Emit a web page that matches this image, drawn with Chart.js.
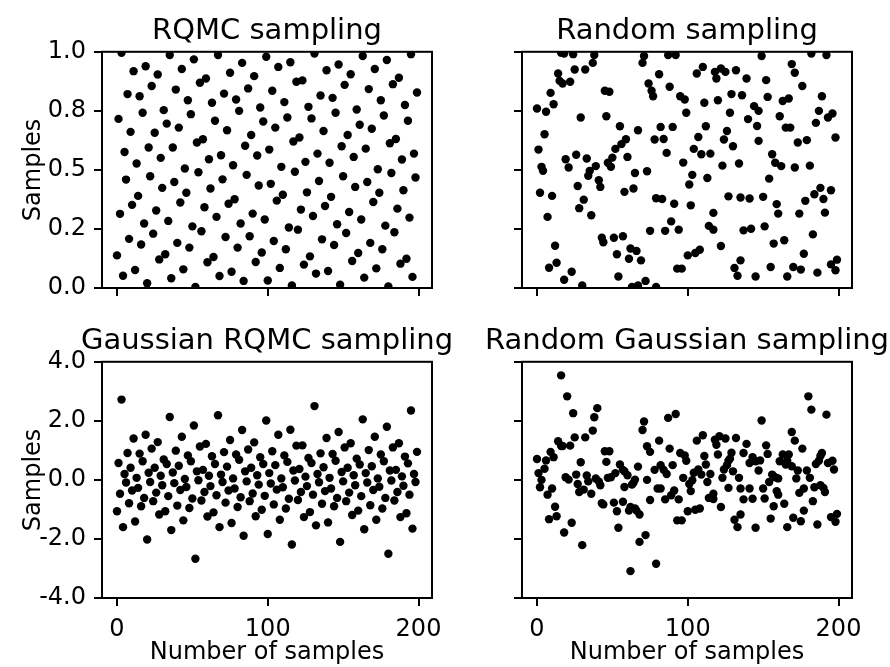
<!DOCTYPE html>
<html>
<head>
<meta charset="utf-8">
<script src="https://cdn.jsdelivr.net/npm/chart.js@4.4.0/dist/chart.umd.min.js"></script>
<style>
  html, body { margin: 0; padding: 0; background: #fff; width: 890px; height: 667px; overflow: hidden; }
  canvas { position: absolute; }
</style>
</head>
<body>
<canvas id="rqmc" width="534" height="315" style="left:0px;top:0px"></canvas>
<canvas id="random" width="450" height="315" style="left:462px;top:0px"></canvas>
<canvas id="gaussRqmc" width="534" height="357" style="left:0px;top:310px"></canvas>
<canvas id="gaussRandom" width="450" height="357" style="left:462px;top:310px"></canvas>
<script>
// tick values and labels
var xTickValues = [0, 100, 200];
var xTickLabels = ['0', '100', '200'];
var uniformTickValues = [0, 0.25, 0.5, 0.75, 1];
var uniformTickLabels = ['0.0', '0.2', '0.5', '0.8', '1.0'];
var gaussTickValues = [-4, -2, 0, 2, 4];
var gaussTickLabels = ['-4.0', '-2.0', '0.0', '2.0', '4.0'];

// RQMC sampling (one sample per index 0..199)
var rqmcY = [
  0.138, 0.716, 0.314, 0.996, 0.052, 0.576, 0.459, 0.821, 0.208, 0.661,
  0.352, 0.918, 0.076, 0.527, 0.390, 0.812, 0.184, 0.742, 0.273, 0.939,
  0.020, 0.595, 0.473, 0.855, 0.230, 0.657, 0.328, 0.904, 0.121, 0.551,
  0.424, 0.753, 0.143, 0.696, 0.284, 0.986, 0.041, 0.595, 0.449, 0.840,
  0.191, 0.679, 0.362, 0.927, 0.079, 0.506, 0.403, 0.795, 0.171, 0.736,
  0.261, 0.968, 0.004, 0.616, 0.490, 0.869, 0.240, 0.630, 0.342, 0.887,
  0.109, 0.545, 0.421, 0.784, 0.131, 0.708, 0.301, 0.986, 0.051, 0.562,
  0.460, 0.823, 0.216, 0.668, 0.357, 0.911, 0.069, 0.520, 0.376, 0.798,
  0.171, 0.750, 0.273, 0.953, 0.030, 0.602, 0.479, 0.845, 0.219, 0.648,
  0.315, 0.897, 0.110, 0.561, 0.434, 0.764, 0.150, 0.705, 0.290, 0.979,
  0.032, 0.586, 0.441, 0.835, 0.199, 0.679, 0.370, 0.936, 0.085, 0.513,
  0.395, 0.787, 0.164, 0.722, 0.256, 0.956, 0.011, 0.620, 0.492, 0.873,
  0.247, 0.637, 0.332, 0.879, 0.099, 0.534, 0.405, 0.767, 0.134, 0.718,
  0.305, 0.993, 0.061, 0.569, 0.453, 0.815, 0.206, 0.665, 0.347, 0.922,
  0.072, 0.530, 0.386, 0.805, 0.182, 0.742, 0.270, 0.946, 0.014, 0.600,
  0.473, 0.860, 0.233, 0.648, 0.322, 0.905, 0.114, 0.555, 0.428, 0.756,
  0.148, 0.691, 0.290, 0.982, 0.044, 0.590, 0.449, 0.842, 0.191, 0.674,
  0.364, 0.927, 0.083, 0.503, 0.403, 0.795, 0.164, 0.730, 0.264, 0.965,
  0.007, 0.613, 0.487, 0.863, 0.236, 0.631, 0.336, 0.890, 0.103, 0.544,
  0.414, 0.775, 0.124, 0.708, 0.298, 0.990, 0.047, 0.569, 0.468, 0.828
];

// Gaussian RQMC sampling (one sample per index 0..199)
var gaussRqmcY = [
  -1.06, 0.57, -0.47, 2.72, -1.60, 0.20, -0.09, 0.91, -0.79, 0.41,
  -0.36, 1.40, -1.41, 0.07, -0.27, 0.89, -0.89, 0.63, -0.61, 1.53,
  -2.02, 0.24, -0.07, 1.06, -0.72, 0.41, -0.43, 1.28, -1.17, 0.14,
  -0.18, 0.69, -1.06, 0.54, -0.55, 2.13, -1.70, 0.25, -0.11, 0.99,
  -0.87, 0.48, -0.34, 1.46, -1.37, 0.03, -0.24, 0.83, -0.95, 0.63,
  -0.63, 1.84, -2.67, 0.29, -0.01, 1.13, -0.70, 0.34, -0.41, 1.22,
  -1.24, 0.14, -0.21, 0.80, -1.10, 0.54, -0.52, 2.19, -1.60, 0.18,
  -0.07, 0.94, -0.77, 0.45, -0.36, 1.35, -1.46, 0.05, -0.29, 0.86,
  -0.92, 0.68, -0.59, 1.69, -1.89, 0.29, -0.05, 1.03, -0.72, 0.41,
  -0.46, 1.27, -1.23, 0.16, -0.16, 0.77, -1.01, 0.54, -0.54, 2.01,
  -1.83, 0.23, -0.12, 0.97, -0.83, 0.50, -0.33, 1.53, -1.35, 0.05,
  -0.25, 0.83, -0.97, 0.61, -0.64, 1.70, -2.19, 0.32, -0.02, 1.16,
  -0.68, 0.37, -0.41, 1.17, -1.26, 0.11, -0.21, 0.74, -1.09, 0.57,
  -0.50, 2.50, -1.54, 0.20, -0.08, 0.90, -0.81, 0.43, -0.38, 1.42,
  -1.44, 0.07, -0.29, 0.88, -0.89, 0.65, -0.61, 1.62, -2.10, 0.27,
  -0.05, 1.10, -0.72, 0.41, -0.43, 1.24, -1.19, 0.16, -0.18, 0.72,
  -1.04, 0.52, -0.55, 2.05, -1.67, 0.23, -0.09, 1.01, -0.86, 0.46,
  -0.34, 1.46, -1.35, 0.05, -0.23, 0.86, -0.97, 0.63, -0.61, 1.80,
  -2.50, 0.32, -0.02, 1.10, -0.70, 0.34, -0.41, 1.24, -1.26, 0.12,
  -0.20, 0.79, -1.13, 0.56, -0.50, 2.35, -1.65, 0.20, -0.07, 0.95
];

// Random sampling (sample index, value)
var randomX = [
  0, 1, 2, 3, 4, 5, 6, 7, 8, 9, 10, 11, 12, 13, 14, 15, 16, 17, 18, 18,
  19, 21, 22, 23, 24, 25, 26, 27, 28, 29, 30, 31, 32, 33, 34, 35, 36, 37, 38, 39,
  41, 42, 43, 44, 45, 46, 47, 48, 49, 50, 51, 52, 53, 54, 55, 56, 57, 58, 59, 60,
  61, 62, 63, 64, 65, 66, 67, 67, 69, 70, 71, 72, 73, 74, 75, 76, 77, 78, 79, 79,
  81, 82, 83, 84, 85, 86, 87, 88, 89, 90, 91, 92, 93, 94, 95, 96, 97, 98, 99, 100,
  101, 102, 103, 104, 105, 106, 107, 108, 109, 110, 111, 112, 113, 114, 115, 117, 117, 118, 119, 120,
  122, 122, 123, 124, 125, 126, 127, 128, 129, 130, 131, 132, 133, 134, 135, 135, 136, 137, 139, 140,
  141, 142, 144, 145, 146, 147, 147, 149, 150, 151, 152, 153, 154, 155, 156, 157, 158, 159, 160, 161,
  162, 163, 164, 165, 166, 167, 168, 169, 170, 171, 171, 173, 174, 175, 176, 177, 178, 179, 181, 182,
  183, 184, 185, 186, 187, 188, 189, 190, 191, 192, 193, 195, 195, 196, 198, 198, 199
];
var randomY = [
  0.760, 0.586, 0.403, 0.513, 0.496, 0.651, 0.746, 0.301, 0.086, 0.826, 0.390, 0.778, 0.179, 0.107, 0.908, 0.877, 0.996, 0.866, 0.993, 0.035,
  0.545, 0.510, 0.873, 0.069, 0.990, 0.925, 0.564, 0.432, 0.338, 0.722, 0.011, 0.374, 0.925, 0.548, 0.475, 0.496, 0.308, 0.953, 0.986, 0.516,
  0.456, 0.428, 0.213, 0.194, 0.835, 0.727, 0.530, 0.831, 0.513, 0.552, 0.213, 0.589, 0.143, 0.049, 0.685, 0.609, 0.219, 0.407, 0.630, 0.555,
  0.124, 0.167, 0.004, 0.421, 0.487, 0.157, 0.668, 0.011, 0.117, 0.953, 0.982, 0.030, 0.494, 0.866, 0.242, 0.835, 0.812, 0.629, 0.380, 0.004,
  0.905, 0.682, 0.377, 0.631, 0.242, 0.572, 0.986, 0.852, 0.282, 0.682, 0.357, 0.986, 0.082, 0.247, 0.812, 0.082, 0.531, 0.798, 0.742, 0.138,
  0.438, 0.350, 0.479, 0.589, 0.148, 0.908, 0.639, 0.162, 0.566, 0.936, 0.784, 0.685, 0.466, 0.263, 0.569, 0.247, 0.318, 0.915, 0.887, 0.795,
  0.929, 0.178, 0.518, 0.629, 0.915, 0.665, 0.388, 0.742, 0.821, 0.600, 0.085, 0.922, 0.052, 0.527, 0.117, 0.383, 0.816, 0.244, 0.887, 0.715,
  0.379, 0.251, 0.770, 0.049, 0.686, 0.750, 0.623, 0.982, 0.386, 0.261, 0.880, 0.809, 0.463, 0.089, 0.566, 0.188, 0.530, 0.355, 0.315, 0.727,
  0.516, 0.792, 0.202, 0.679, 0.049, 0.802, 0.679, 0.948, 0.089, 0.911, 0.510, 0.616, 0.315, 0.078, 0.855, 0.145, 0.369, 0.626, 0.518, 0.993,
  0.227, 0.397, 0.699, 0.065, 0.750, 0.424, 0.812, 0.377, 0.319, 0.986, 0.722, 0.414, 0.100, 0.739, 0.075, 0.637, 0.120
];

// Random Gaussian sampling (sample index, value)
var gaussRandomX = [
  0, 1, 2, 3, 5, 6, 7, 8, 9, 10, 11, 12, 13, 14, 16, 16, 17, 18, 19, 20,
  21, 22, 23, 24, 25, 26, 27, 28, 29, 30, 31, 32, 33, 34, 36, 37, 38, 39, 40, 41,
  42, 43, 44, 45, 46, 47, 48, 49, 51, 52, 53, 54, 55, 57, 57, 58, 58, 60, 61, 62,
  62, 63, 64, 65, 65, 66, 67, 68, 68, 70, 71, 72, 73, 73, 75, 75, 78, 79, 80, 81,
  82, 82, 84, 85, 86, 87, 88, 89, 90, 91, 92, 93, 94, 95, 96, 97, 98, 99, 100, 101,
  102, 103, 104, 105, 106, 107, 108, 109, 110, 111, 112, 113, 114, 115, 117, 117, 118, 119, 120, 121,
  122, 123, 124, 125, 126, 127, 127, 128, 129, 130, 131, 132, 133, 134, 135, 135, 137, 137, 139, 141,
  141, 143, 143, 145, 145, 147, 148, 149, 150, 151, 152, 153, 154, 155, 156, 157, 158, 159, 160, 160,
  161, 163, 164, 165, 166, 166, 167, 169, 169, 170, 171, 172, 173, 174, 175, 176, 177, 177, 179, 180,
  181, 182, 183, 184, 185, 186, 187, 188, 188, 189, 190, 191, 192, 193, 195, 196, 197, 198, 199
];
var gaussRandomY = [
  0.71, 0.23, -0.25, 0.00, 0.38, 0.66, -0.50, -1.33, 0.95, -0.29, 0.77, -0.91, -1.23, 1.31, 1.15, 3.54, 1.15, -1.78, 0.09, 2.83,
  0.01, 1.16, -1.45, 2.26, 1.44, 0.18, -0.14, -0.41, 0.60, -2.21, -0.33, 1.44, 0.15, -0.05, -0.47, 1.67, 2.12, 0.05, 2.43, -0.05,
  -0.18, -0.79, -0.83, 0.97, 0.61, 0.07, 0.97, 0.09, -0.77, 0.23, -1.06, -1.62, 0.52, 0.34, -0.74, -0.24, 0.29, 0.16, -1.04, -0.92,
  -3.09, -0.16, -0.10, -0.97, 0.01, -1.04, 0.45, -1.17, -2.10, 1.69, 1.98, -1.87, 0.00, 1.14, 0.95, -0.68, 0.34, -2.84, -0.29, 1.33,
  -0.29, 0.50, 0.34, -0.66, 0.20, 2.10, 1.06, -0.52, 0.50, -0.36, 2.23, -1.37, -0.66, 0.91, -1.37, 0.07, 0.83, 0.65, -1.06, -0.14,
  -0.38, -0.01, 0.24, -1.01, 1.33, 0.35, -0.97, 0.18, 1.51, 0.81, 0.52, -0.07, -0.61, 0.20, -0.65, -0.47, 1.36, 1.19, 0.86, 1.48,
  -0.92, 0.07, 0.35, 1.40, 0.50, -0.27, 0.65, 0.72, 0.92, 0.29, -1.35, 1.42, -1.60, 0.07, -1.17, -0.29, -0.66, 0.91, 1.22, -0.29,
  0.57, -0.64, 0.77, 0.63, -1.62, 0.32, 0.66, 2.01, -0.29, -0.63, 1.17, 0.88, -0.07, -1.31, 0.18, -0.89, 0.09, -0.38, 0.05, -0.50,
  0.63, 0.86, -0.81, 0.52, 0.65, -1.60, 0.86, 0.46, 1.62, -1.28, 1.33, 0.05, 0.32, -0.44, -1.40, 1.06, -1.04, -0.29, 0.32, 2.83,
  0.07, 2.38, -0.72, -0.25, 0.54, -1.51, 0.65, 0.81, -0.18, 0.91, -0.27, -0.41, 2.21, 0.57, -1.26, 0.65, 0.35, -1.42, -1.15
];

Chart.defaults.font.family = "'DejaVu Sans', sans-serif";
Chart.defaults.color = '#000';
Chart.defaults.animation = false;

// draw all four spines round the plot area
var framePlugin = {
    id: 'frame',
    afterDatasetsDraw: function (chart) {
        var a = chart.chartArea;
        var ctx = chart.ctx;
        ctx.save();
        ctx.strokeStyle = '#000';
        ctx.lineWidth = 2;
        ctx.strokeRect(a.left, a.top, a.right - a.left, a.bottom - a.top);
        ctx.restore();
    }
};

function toPoints(xs, ys) {
    var pts = [];
    for (var i = 0; i < ys.length; i++) {
        pts.push({ x: xs[i], y: ys[i] });
    }
    return pts;
}

function indexList(n) {
    var idx = [];
    for (var i = 0; i < n; i++) {
        idx.push(i);
    }
    return idx;
}

function drawPanel(id, title, points, p) {
    var config = {
        type: 'scatter',
        data: {
            datasets: [{
                data: points,
                backgroundColor: '#000',
                borderWidth: 0,
                pointRadius: 4.2,
                pointHoverRadius: 4.2,
                clip: 0
            }]
        },
        options: {
            responsive: false,
            events: [],
            layout: { padding: 0 },
            plugins: {
                legend: { display: false },
                tooltip: { enabled: false },
                title: {
                    display: true,
                    text: title,
                    font: { size: 29, weight: 'normal' },
                    color: '#000',
                    padding: { top: 14, bottom: 3 }
                }
            },
            scales: {
                x: {
                    type: 'linear',
                    min: -9.95,
                    max: 208.95,
                    afterBuildTicks: function (scale) {
                        scale.ticks = xTickValues.map(function (v) { return { value: v }; });
                    },
                    afterFit: function (scale) { scale.height = p.xHeight; },
                    ticks: {
                        autoSkip: false,
                        maxRotation: 0,
                        padding: 9,
                        font: { size: 24 },
                        callback: function (v, i) { return p.xLabels ? xTickLabels[i] : ''; }
                    },
                    grid: { display: true, drawOnChartArea: false, drawTicks: true, tickLength: 8, color: '#000', lineWidth: 2 },
                    border: { display: false },
                    title: {
                        display: p.xLabels,
                        text: 'Number of samples',
                        font: { size: 24 },
                        padding: { top: 0, bottom: 0 }
                    }
                },
                y: {
                    type: 'linear',
                    position: 'left',
                    min: p.yTicks[0],
                    max: p.yTicks[p.yTicks.length - 1],
                    afterBuildTicks: function (scale) {
                        scale.ticks = p.yTicks.map(function (v) { return { value: v }; });
                    },
                    afterFit: function (scale) { scale.width = p.side; },
                    ticks: {
                        autoSkip: false,
                        padding: 8,
                        font: { size: 24 },
                        callback: function (v, i) { return p.yLabels ? p.yTickLabels[i] : ''; }
                    },
                    grid: { display: true, drawOnChartArea: false, drawTicks: true, tickLength: 8, color: '#000', lineWidth: 2 },
                    border: { display: false },
                    title: {
                        display: p.yLabels,
                        text: 'Samples',
                        font: { size: 24 },
                        padding: { top: 19, bottom: 0 }
                    }
                },
                // empty right axis so the plot sits in the middle of its canvas
                yRight: {
                    type: 'linear',
                    position: 'right',
                    afterFit: function (scale) { scale.width = p.side; },
                    ticks: { display: false },
                    grid: { display: false },
                    border: { display: false }
                }
            }
        },
        plugins: [framePlugin]
    };
    var ctx = document.getElementById(id).getContext('2d');
    return new Chart(ctx, config);
}

drawPanel('rqmc', 'RQMC sampling', toPoints(indexList(rqmcY.length), rqmcY),
    { side: 102, xHeight: 27, xLabels: false, yLabels: true, yTicks: uniformTickValues, yTickLabels: uniformTickLabels });
drawPanel('random', 'Random sampling', toPoints(randomX, randomY),
    { side: 60, xHeight: 27, xLabels: false, yLabels: false, yTicks: uniformTickValues, yTickLabels: uniformTickLabels });
drawPanel('gaussRqmc', 'Gaussian RQMC sampling', toPoints(indexList(gaussRqmcY.length), gaussRqmcY),
    { side: 102, xHeight: 69, xLabels: true, yLabels: true, yTicks: gaussTickValues, yTickLabels: gaussTickLabels });
drawPanel('gaussRandom', 'Random Gaussian sampling', toPoints(gaussRandomX, gaussRandomY),
    { side: 60, xHeight: 69, xLabels: true, yLabels: false, yTicks: gaussTickValues, yTickLabels: gaussTickLabels });
</script>
</body>
</html>
